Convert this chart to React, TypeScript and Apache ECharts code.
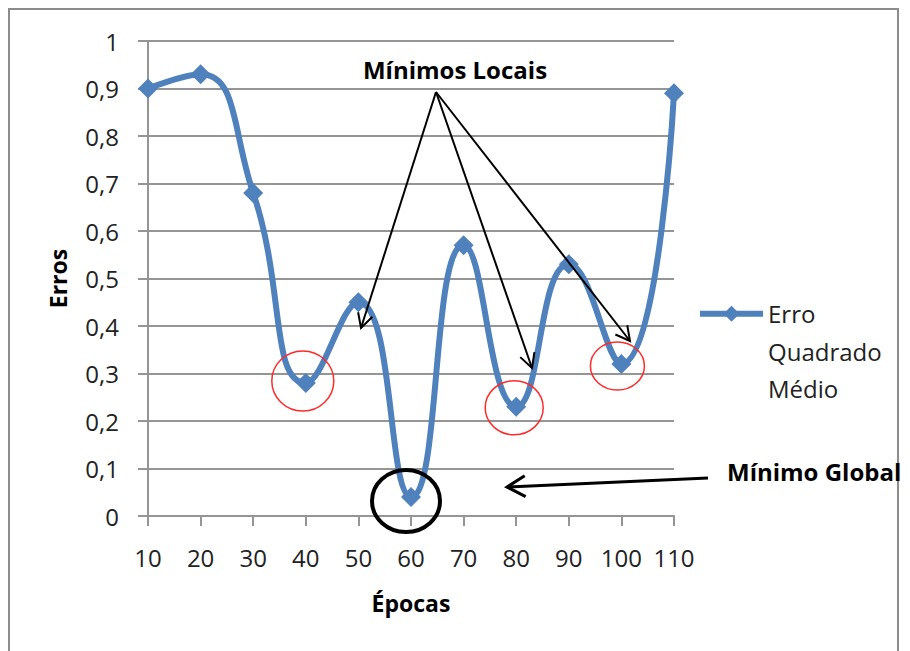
import React, { useEffect, useRef } from "react";
import * as echarts from "echarts";

// Epochs on the horizontal axis and the mean squared error at each one
const epocas = ["10", "20", "30", "40", "50", "60", "70", "80", "90", "100", "110"];
const erroQuadradoMedio = [0.9, 0.93, 0.68, 0.28, 0.45, 0.04, 0.57, 0.23, 0.53, 0.32, 0.89];

// Value axis range
const yMin = 0;
const yMax = 1;
const yStep = 0.1;

// Local minima (highlighted with red rings) and the global minimum (black ring)
const minimosLocais = ["40", "80", "100"];
const minimoGlobal = "60";

const serieNome = "Erro Quadrado Médio";
const FONT = "'Open Sans', 'DejaVu Sans', sans-serif";
const GRID_COLOR = "#959595";
const BLUE = "#4F81BD";

function arrowHead(tip: number[], from: number[], len: number, angleDeg: number) {
  const dx = from[0] - tip[0];
  const dy = from[1] - tip[1];
  const d = Math.hypot(dx, dy);
  const ux = dx / d;
  const uy = dy / d;
  const a = (angleDeg * Math.PI) / 180;
  const rot = (s: number) => [
    tip[0] + len * (ux * Math.cos(s * a) - uy * Math.sin(s * a)),
    tip[1] + len * (ux * Math.sin(s * a) + uy * Math.cos(s * a)),
  ];
  return [rot(1), tip, rot(-1)];
}

export default function App() {
  const ref = useRef<HTMLDivElement>(null);

  useEffect(() => {
    if (!ref.current) return;
    const chart = echarts.init(ref.current, null, { renderer: "svg" });

    chart.setOption({
      animation: false,
      backgroundColor: "#ffffff",
      textStyle: { fontFamily: FONT },
      grid: { left: 148, right: 236, top: 41, bottom: 135 },
      xAxis: {
        type: "category",
        data: epocas,
        boundaryGap: false,
        name: "Épocas",
        nameLocation: "middle",
        nameGap: 75,
        nameTextStyle: { fontFamily: FONT, fontWeight: "bold", fontSize: 23, color: "#000" },
        axisLine: { lineStyle: { color: GRID_COLOR, width: 2 } },
        axisTick: { show: true, alignWithLabel: true, interval: 0, length: 10, lineStyle: { color: GRID_COLOR, width: 2 } },
        axisLabel: { interval: 0, margin: 29, fontSize: 24, color: "#222", fontFamily: FONT },
        splitLine: { show: false },
      },
      yAxis: {
        type: "value",
        min: yMin,
        max: yMax,
        interval: yStep,
        name: "Erros",
        nameLocation: "middle",
        nameGap: 79,
        nameRotate: 90,
        nameTextStyle: { fontFamily: FONT, fontWeight: "bold", fontSize: 23, color: "#000" },
        axisLine: { show: true, lineStyle: { color: GRID_COLOR, width: 2 } },
        axisTick: { show: true, length: 10, lineStyle: { color: GRID_COLOR, width: 2 } },
        axisLabel: {
          margin: 29,
          fontSize: 24,
          color: "#222",
          fontFamily: FONT,
          formatter: (v: number) => String(Math.round(v * 10) / 10).replace(".", ","),
        },
        splitLine: { show: true, lineStyle: { color: GRID_COLOR, width: 2 } },
      },
      legend: {
        data: [serieNome],
        orient: "vertical",
        left: 697,
        top: 220,
        padding: 0,
        itemWidth: 63,
        itemHeight: 20,
        itemGap: 0,
        // two blank lines first so that "Erro" sits level with the icon
        formatter: () => "\n\nErro\nQuadrado\nMédio",
        lineStyle: { width: 6 },
        textStyle: {
          fontFamily: FONT,
          fontSize: 24,
          lineHeight: 37.5,
          color: "#222",
        },
      },
      series: [
        {
          name: serieNome,
          type: "line",
          data: erroQuadradoMedio,
          smooth: 0.5,
          symbol: "diamond",
          symbolSize: 20,
          showSymbol: true,
          lineStyle: { color: BLUE, width: 6 },
          itemStyle: { color: BLUE },
          z: 3,
        },
      ],
    });

    // Annotations: rings around the minima, arrows and labels
    const px = (cat: string) => {
      const i = epocas.indexOf(cat);
      return chart.convertToPixel({ gridIndex: 0 }, [i, erroQuadradoMedio[i]]) as number[];
    };

    const ringOffsets: Record<string, number[]> = {
      "40": [-3, -2, 31, 30],
      "80": [-2, 1, 29, 27],
      "100": [-4, 2, 27, 24],
    };

    const rings = minimosLocais.map((c) => {
      const p = px(c);
      const o = ringOffsets[c];
      return {
        type: "ellipse",
        shape: { cx: p[0] + o[0], cy: p[1] + o[1], rx: o[2], ry: o[3] },
        style: { fill: "none", stroke: "#FF2A2A", lineWidth: 1.5 },
        z: 100,
      };
    });

    const g = px(minimoGlobal);
    const globalRing = {
      type: "ellipse",
      shape: { cx: g[0] - 5, cy: g[1] + 4, rx: 34, ry: 31 },
      style: { fill: "none", stroke: "#000", lineWidth: 4 },
      z: 100,
    };

    const origin = [436, 92];
    const tips = [
      [361, 328],
      [532, 368],
      [630, 341],
    ];
    const localArrows: any[] = [];
    tips.forEach((t) => {
      localArrows.push({
        type: "line",
        shape: { x1: origin[0], y1: origin[1], x2: t[0], y2: t[1] },
        style: { stroke: "#000", lineWidth: 2 },
        z: 100,
      });
      localArrows.push({
        type: "polyline",
        shape: { points: arrowHead(t, origin, 16, 28) },
        style: { stroke: "#000", lineWidth: 2, fill: "none" },
        z: 100,
      });
    });

    const gStart = [708, 478];
    const gTip = [507, 487];
    const globalArrow = [
      {
        type: "line",
        shape: { x1: gStart[0], y1: gStart[1], x2: gTip[0], y2: gTip[1] },
        style: { stroke: "#000", lineWidth: 3 },
        z: 100,
      },
      {
        type: "polyline",
        shape: { points: arrowHead(gTip, gStart, 21, 30) },
        style: { stroke: "#000", lineWidth: 3, fill: "none" },
        z: 100,
      },
    ];

    chart.setOption({
      graphic: [
        // chart frame
        {
          type: "polyline",
          shape: { points: [[9, 660], [9, 9], [898, 9], [898, 660]] },
          style: { stroke: "#8C8C8C", lineWidth: 2, fill: "none" },
          z: 50,
        },
        ...rings,
        globalRing,
        ...localArrows,
        ...globalArrow,
        {
          type: "text",
          x: 455,
          y: 69,
          style: {
            text: "Mínimos Locais",
            font: `bold 24px ${FONT}`,
            fill: "#000",
            align: "center",
            verticalAlign: "middle",
          },
          z: 100,
        },
        {
          type: "text",
          x: 727,
          y: 471,
          style: {
            text: "Mínimo Global",
            font: `bold 24px ${FONT}`,
            fill: "#000",
            align: "left",
            verticalAlign: "middle",
          },
          z: 100,
        },
      ],
    });

    return () => chart.dispose();
  }, []);

  return (
    <div
      ref={ref}
      style={{ position: "absolute", left: 0, top: 0, width: 910, height: 651 }}
    />
  );
}
